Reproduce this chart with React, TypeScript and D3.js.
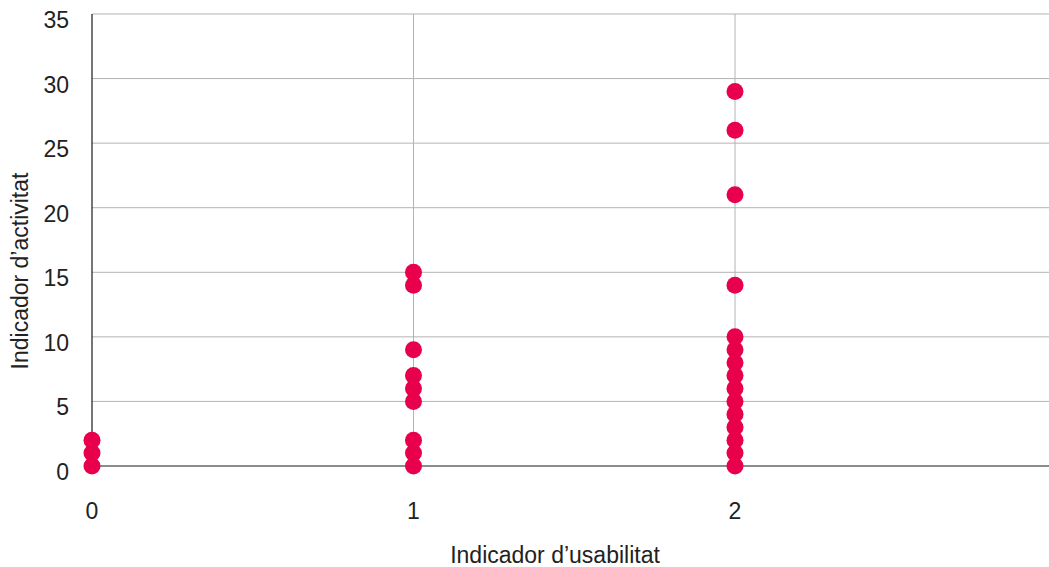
import React from "react";
import * as d3 from "d3";

const xTicks = [0, 1, 2];
const yTicks = [0, 5, 10, 15, 20, 25, 30, 35];
const pointsX0 = [0, 1, 2];
const pointsX1 = [0, 1, 2, 5, 6, 7, 9, 14, 15];
const pointsX2 = [0, 1, 2, 3, 4, 5, 6, 7, 8, 9, 10, 14, 21, 26, 29];
const groups = [
  { x: 0, ys: pointsX0 },
  { x: 1, ys: pointsX1 },
  { x: 2, ys: pointsX2 },
];

const W = 1049;
const H = 567;

export default function App() {
  const x = d3.scaleLinear().domain([0, 3]).range([92, 1056.5]);
  const y = d3.scaleLinear().domain([0, 35]).range([466, 14]);
  const font = "'Liberation Sans', Arial, Helvetica, sans-serif";
  const textColor = "#222";
  const fs = 23;
  return (
    <svg width={W} height={H} style={{ position: "absolute", left: 0, top: 0 }} fontFamily={font}>
      <rect width={W} height={H} fill="#fff" />
      {yTicks.filter((t) => t > 0).map((t) => (
        <line key={"gy" + t} x1={92} x2={W} y1={y(t)} y2={y(t)} stroke="#b3b3b3" strokeWidth={1} />
      ))}
      {xTicks.filter((t) => t > 0).map((t) => (
        <line key={"gx" + t} x1={x(t)} x2={x(t)} y1={y(35)} y2={y(0)} stroke="#b3b3b3" strokeWidth={1} />
      ))}
      <line x1={92} x2={W} y1={y(0)} y2={y(0)} stroke="#1a1a1a" strokeWidth={1.2} />
      <line x1={92} x2={92} y1={y(35)} y2={y(0)} stroke="#1a1a1a" strokeWidth={1.2} />
      {yTicks.map((t) => (
        <text key={"ty" + t} x={69} y={y(t) + 6} dy="0.35em" textAnchor="end" fontSize={fs} fill={textColor}>
          {t}
        </text>
      ))}
      {xTicks.map((t) => (
        <text key={"tx" + t} x={x(t)} y={511} dy="0.35em" textAnchor="middle" fontSize={fs} fill={textColor}>
          {t}
        </text>
      ))}
      <text x={555} y={555} dy="0.35em" textAnchor="middle" fontSize={fs} fill={textColor}>
        Indicador d’usabilitat
      </text>
      <text
        transform={`translate(20,271) rotate(-90)`}
        dy="0.35em"
        textAnchor="middle"
        fontSize={fs}
        fill={textColor}
      >
        Indicador d’activitat
      </text>
      {groups.map((g) =>
        g.ys.map((v, i) => (
          <circle key={g.x + "-" + i} cx={x(g.x)} cy={y(v)} r={8.5} fill="#e8004c" />
        ))
      )}
    </svg>
  );
}
